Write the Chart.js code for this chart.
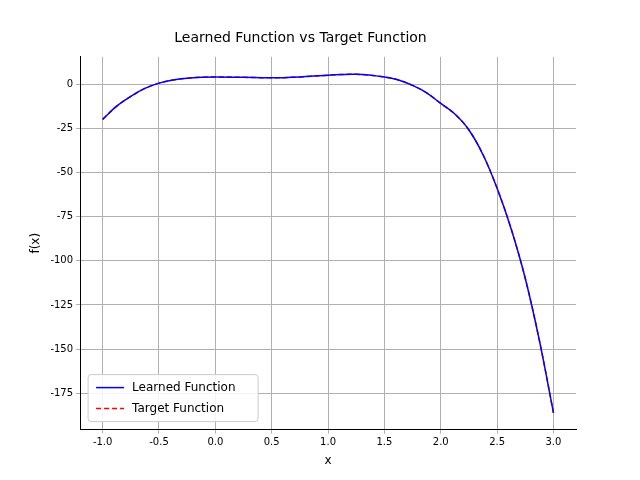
<!DOCTYPE html>
<html><head><meta charset="utf-8">
<script src="https://cdn.jsdelivr.net/npm/chart.js@4"></script>
<style>html,body{margin:0;padding:0;background:#fff}#w{width:640px;height:480px}</style>
</head><body><div id="w"><canvas id="c" width="640" height="480"></canvas></div>
<script>
const xs = [-1.0,-0.875,-0.75,-0.625,-0.5,-0.375,-0.25,-0.125,0,0.25,0.5,0.75,1.0,1.25,1.5,1.625,1.75,1.875,2.0,2.125,2.25,2.375,2.5,2.625,2.75,2.875,3.0];
const learned = [-20,-12.5,-7,-2.5,0.5,2.3,3.3,3.8,4,3.8,3.5,4,5,5.5,4,2.3,-0.8,-5,-11,-17,-26,-40,-59,-82,-110,-145,-186];
const target = learned.slice();
const xTicks = [-1.0,-0.5,0.0,0.5,1.0,1.5,2.0,2.5,3.0];
const yTicks = [0,-25,-50,-75,-100,-125,-150,-175];
const pts = ys => xs.map((x,i)=>({x:x,y:ys[i]}));
Chart.defaults.font.family = "DejaVu Sans";
Chart.defaults.color = "#000";
const legendPlugin = {id:'lg',afterDraw(ch){
  const c=ch.ctx, a=ch.chartArea, x=a.left+8, h=47, y=a.bottom-8-h, w=170;
  c.save();c.fillStyle='rgba(255,255,255,0.85)';c.strokeStyle='#ccc';c.lineWidth=1;
  c.beginPath();c.roundRect(x,y,w,h,3);c.fill();c.stroke();
  c.font='12px "DejaVu Sans"';c.textBaseline='middle';c.fillStyle='#000';
  [['Learned Function','#0000ff',[]],['Target Function','#ff0000',[5,3]]].forEach((it,i)=>{
    const yy=y+13+i*21;c.strokeStyle=it[1];c.lineWidth=1.5;c.setLineDash(it[2]);
    c.beginPath();c.moveTo(x+8,yy);c.lineTo(x+36,yy);c.stroke();c.setLineDash([]);
    c.fillText(it[0],x+44,yy);
  });c.restore();}};
new Chart(document.getElementById('c'), {
  type:'scatter',
  data:{datasets:[
    {label:'Learned Function',data:pts(learned),showLine:true,borderColor:'#0000ff',borderWidth:1.5,pointRadius:0,tension:0.35},
    {label:'Target Function',data:pts(target),showLine:true,borderColor:'#ff0000',borderWidth:1.5,borderDash:[5,3],pointRadius:0,tension:0.35}
  ]},
  options:{responsive:false,animation:false,
    layout:{padding:{left:25,right:64,top:10,bottom:8}},
    plugins:{
      title:{display:true,text:'Learned Function vs Target Function',font:{size:14,weight:'normal'},padding:{top:20,bottom:10}},
      legend:{display:false},
      tooltip:{enabled:false}
    },
    scales:{
      x:{type:'linear',min:-1.2,max:3.2,afterBuildTicks:a=>{a.ticks=xTicks.map(v=>({value:v}));},
        ticks:{callback:v=>v.toFixed(1),font:{size:10},maxRotation:0},
        grid:{color:'#b0b0b0',tickLength:4},border:{color:'#000'},
        title:{display:true,text:'x',font:{size:12},padding:{top:2}}},
      y:{type:'linear',min:-195.5,max:15.4,afterBuildTicks:a=>{a.ticks=yTicks.map(v=>({value:v}));},
        ticks:{font:{size:10}},grid:{color:'#b0b0b0',tickLength:4},border:{color:'#000'},
        title:{display:true,text:'f(x)',font:{size:12}}}
    }
  },
  plugins:[legendPlugin]
});
</script></body></html>
